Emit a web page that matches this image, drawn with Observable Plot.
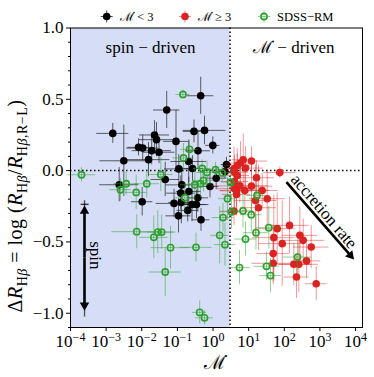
<!DOCTYPE html>
<html><head><meta charset="utf-8">
<script src="https://cdn.jsdelivr.net/npm/d3@7"></script>
<script src="https://cdn.jsdelivr.net/npm/@observablehq/plot@0.6"></script>
<style>
body{margin:0;background:#fff}
#chart{position:relative;width:374px;height:377px}
</style>
</head><body><div id="chart"></div>
<script>
// ---- data (log10 Mdot, Delta R, errors) ----
const thresholdMdot = 3;

const blackLogMdot = [-0.346,-1.300,-2.813,-0.534,-0.239,-1.642,-1.586,-1.039,-0.006,-2.091,-1.974,-1.721,-1.516,-0.422,-2.504,-1.811,-0.683,-0.960,-0.576,0.378,-1.342,0.089,-2.633,-0.876,-0.904,-0.680,-0.085,-1.988,-1.095,-0.890,-0.590,-0.464,-0.427,-0.711,-0.969,-0.337,0.336];
const blackDeltaR  = [0.525,0.425,0.261,0.275,0.282,0.250,0.217,0.205,0.177,0.163,0.158,0.140,0.129,0.139,0.069,0.077,0.064,0.012,0.015,0.043,-0.062,-0.053,-0.099,-0.100,-0.158,-0.146,-0.111,-0.218,-0.230,-0.223,-0.238,-0.238,-0.191,-0.279,-0.317,-0.345,-0.006];
const blackLogMdotErr = [0.37,0.37,0.45,0.30,0.60,0.42,0.48,0.35,0.20,0.30,0.45,0.55,0.45,0.35,0.67,0.60,0.50,0.40,0.30,0.15,0.40,0.30,0.55,0.45,0.40,0.35,0.25,0.30,0.50,0.35,0.40,0.35,0.30,0.30,0.35,0.25,0.15];
const blackDeltaRErr  = [0.13,0.13,0.07,0.08,0.10,0.10,0.12,0.22,0.06,0.06,0.09,0.10,0.08,0.13,0.25,0.12,0.15,0.10,0.09,0.05,0.12,0.08,0.12,0.12,0.12,0.10,0.08,0.10,0.10,0.15,0.12,0.10,0.10,0.08,0.12,0.08,0.05];

const redLogMdot = [0.847,1.080,0.771,0.679,0.589,0.912,0.603,1.874,0.679,1.220,0.752,1.080,0.603,0.659,0.892,1.380,0.659,1.192,1.521,1.276,0.589,1.801,2.147,1.706,2.436,2.531,1.942,2.756,1.689,1.689,2.267,2.408,2.624,2.343,2.896,0.603];
const redDeltaR  = [0.076,0.067,0.053,0.036,0.013,0.018,-0.011,-0.014,-0.034,-0.050,-0.107,-0.109,-0.127,-0.142,-0.139,-0.139,-0.167,-0.209,-0.197,-0.260,-0.284,-0.407,-0.384,-0.470,-0.454,-0.489,-0.512,-0.536,-0.582,-0.650,-0.657,-0.657,-0.633,-0.746,-0.793,-0.076];
const redLogMdotErr = [0.30,0.45,0.40,0.35,0.30,0.50,0.40,0.45,0.35,0.50,0.80,0.60,0.50,0.45,0.70,0.45,0.40,0.60,0.50,0.50,0.40,0.50,0.55,0.60,0.50,0.60,0.65,0.50,0.45,0.60,0.50,0.55,0.40,0.35,0.30,0.40];
const redDeltaRErr  = [0.18,0.10,0.15,0.12,0.15,0.15,0.12,0.04,0.15,0.12,0.12,0.20,0.15,0.12,0.15,0.12,0.15,0.25,0.20,0.30,0.10,0.25,0.20,0.30,0.20,0.15,0.30,0.15,0.20,0.15,0.15,0.20,0.12,0.15,0.12,0.12];

const sdssLogMdot = [-0.843,-0.660,-0.829,-3.691,-1.466,-0.304,-0.169,0.070,0.258,0.491,-2.437,-2.597,-1.859,-2.156,-0.511,-0.351,-0.792,0.406,0.519,0.280,-2.142,-1.662,-1.550,-1.440,0.187,-1.193,-0.478,0.336,-1.342,0.743,-0.374,-0.239,1.234,0.841,1.074,1.566,1.206,0.912,2.371,1.501,1.613,-0.267];
const sdssDeltaR  = [0.534,0.149,0.089,-0.029,-0.027,0.015,-0.013,0.007,-0.016,-0.081,-0.092,-0.134,-0.092,-0.153,-0.099,-0.092,-0.191,-0.197,-0.289,-0.329,-0.428,-0.468,-0.431,-0.431,-0.454,-0.540,-0.538,-0.519,-0.711,-0.680,-0.994,-1.032,-0.174,-0.282,-0.309,-0.400,-0.435,-0.480,-0.606,-0.671,-0.736,-0.069];
const sdssLogMdotErr = [0.20,0.25,0.30,0.40,0.35,0.25,0.30,0.25,0.25,0.25,0.35,0.30,0.35,0.30,0.40,0.35,0.30,0.25,0.30,0.30,0.70,0.40,0.45,0.40,0.25,0.55,0.45,0.30,0.45,0.30,0.20,0.25,0.30,0.30,0.30,0.35,0.35,0.30,0.40,0.35,0.30,0.30];
const sdssDeltaRErr  = [0.03,0.06,0.10,0.05,0.12,0.06,0.08,0.05,0.06,0.10,0.08,0.08,0.10,0.12,0.12,0.10,0.10,0.15,0.12,0.10,0.12,0.15,0.15,0.12,0.20,0.15,0.10,0.15,0.17,0.12,0.08,0.05,0.08,0.12,0.12,0.15,0.12,0.12,0.12,0.10,0.12,0.08];

const xTickExponents = [-4,-3,-2,-1,0,1,2,3,4];
const yTickValues = [-1.0,-0.5,0.0,0.5,1.0];
const yDomain = [-1.1, 1.0];
const xDomain = [1e-4, 10 ** 4.195];

// annotation layout (data coordinates)
const regionLabels = [
  {x: 0.0176, y: 0.86, text: "spin − driven"},
  {x: 185, y: 0.86, text: "\u2133\u0307 − driven"}
];
const accretionArrow = {x1: 115, y1: -0.081, x2: 7200, y2: -0.595, angle: 49.4};
const accretionText = {x: 1300, y: -0.285, text: "accretion rate"};
const spinArrow = {x: 2.47e-4, yTop: -0.298, yBottom: -0.929, yMid: -0.61};
const spinTexts = [
  {x: 2.47e-4, y: -0.237, text: "+"},
  {x: 2.47e-4, y: -0.996, text: "−"},
  {x: 5.04e-4, y: -0.594, text: "spin"}
];

function rows(lm, dr, xe, ye) {
  return lm.map((v, i) => ({
    x: 10 ** v, y: dr[i],
    xlo: 10 ** (v - xe[i]), xhi: 10 ** (v + xe[i]),
    ylo: dr[i] - ye[i], yhi: dr[i] + ye[i]
  }));
}
const black = rows(blackLogMdot, blackDeltaR, blackLogMdotErr, blackDeltaRErr);
const red = rows(redLogMdot, redDeltaR, redLogMdotErr, redDeltaRErr);
const sdss = rows(sdssLogMdot, sdssDeltaR, sdssLogMdotErr, sdssDeltaRErr);

const serif = "'Liberation Serif', 'DejaVu Serif', serif";
const dotted = {stroke: "black", strokeWidth: 1.5, strokeDasharray: "1.5,2.5"};

const spinLinks = [
  {x1: spinArrow.x, y1: spinArrow.yMid, x2: spinArrow.x, y2: spinArrow.yTop + 0.02},
  {x1: spinArrow.x, y1: spinArrow.yMid, x2: spinArrow.x, y2: spinArrow.yBottom - 0.02}
];
const heads = [
  {x: spinArrow.x, y: spinArrow.yTop + 0.015, rot: 0},
  {x: spinArrow.x, y: spinArrow.yBottom - 0.015, rot: 180},
  {x: accretionArrow.x2, y: accretionArrow.y2, rot: accretionArrow.angle + 90}
];

const plot = Plot.plot({
  width: 374, height: 377,
  marginLeft: 70, marginRight: 12, marginTop: 27.5, marginBottom: 50,
  x: {type: "log", domain: xDomain},
  y: {domain: yDomain},
  style: {fontFamily: serif, fontSize: "17px", background: "white", color: "black", overflow: "visible"},
  marks: [
    Plot.rect([{x1: xDomain[0], x2: thresholdMdot, y1: yDomain[0], y2: yDomain[1]}],
      {x1: "x1", x2: "x2", y1: "y1", y2: "y2", fill: "#d6ddf6"}),
    Plot.ruleX([thresholdMdot], dotted),
    Plot.ruleY([0], dotted),
    // black
    Plot.ruleY(black, {y: "y", x1: "xlo", x2: "xhi", stroke: "#222", strokeOpacity: 0.7, strokeWidth: 1}),
    Plot.ruleX(black, {x: "x", y1: "ylo", y2: "yhi", stroke: "#222", strokeOpacity: 0.7, strokeWidth: 1}),
    Plot.dot(black, {x: "x", y: "y", r: 3.8, fill: "black", stroke: "none"}),
    // red
    Plot.ruleY(red, {y: "y", x1: "xlo", x2: "xhi", stroke: "#e02020", strokeOpacity: 0.45, strokeWidth: 1}),
    Plot.ruleX(red, {x: "x", y1: "ylo", y2: "yhi", stroke: "#e02020", strokeOpacity: 0.45, strokeWidth: 1}),
    Plot.dot(red, {x: "x", y: "y", r: 3.8, fill: "#dd2222", stroke: "none"}),
    // sdss
    Plot.ruleY(sdss, {y: "y", x1: "xlo", x2: "xhi", stroke: "#2ca02c", strokeOpacity: 0.5, strokeWidth: 1}),
    Plot.ruleX(sdss, {x: "x", y1: "ylo", y2: "yhi", stroke: "#2ca02c", strokeOpacity: 0.5, strokeWidth: 1}),
    Plot.dot(sdss, {x: "x", y: "y", r: 3.1, fill: "none", stroke: "#2ca02c", strokeWidth: 1.6}),
    // axes
    Plot.axisY({ticks: d3.range(-11, 11).map(i => i / 10).filter(v => Math.abs(v * 2 - Math.round(v * 2)) > 1e-6),
      tickSize: 2, tickFormat: () => "", label: null}),
    Plot.axisY({ticks: yTickValues, tickSize: 4, tickPadding: 3, tickFormat: d3.format(".1f"), label: null}),
    Plot.axisX({ticks: xTickExponents.map(e => 10 ** e), tickSize: 4, tickPadding: 3,
      tickFormat: d => String(Math.round(Math.log10(d))), label: null}),
    Plot.frame({stroke: "black", strokeWidth: 1}),
    // annotations
    Plot.text(regionLabels, {x: "x", y: "y", text: "text", fontSize: 17, fontFamily: serif}),
    Plot.link(spinLinks, {x1: "x1", y1: "y1", x2: "x2", y2: "y2", stroke: "black", strokeWidth: 2.6}),
    Plot.link([accretionArrow], {x1: "x1", y1: "y1", x2: "x2", y2: "y2", stroke: "black", strokeWidth: 2.6}),
    Plot.dot(heads, {x: "x", y: "y", symbol: "triangle2", r: 4.5, fill: "black", rotate: "rot"}),
    Plot.text([accretionText], {x: "x", y: "y", text: "text", rotate: accretionArrow.angle, fontSize: 17, fontFamily: serif}),
    Plot.text(spinTexts, {x: "x", y: "y", text: "text", rotate: 90, fontSize: 17, fontFamily: serif})
  ]
});

document.getElementById("chart").appendChild(plot);
const svg = d3.select(plot);

// superscript x tick labels
svg.selectAll('g[aria-label="x-axis tick label"] text').each(function() {
  const e = this.textContent.replace("-", "−");
  const t = d3.select(this);
  t.text(null);
  t.append("tspan").text("10");
  t.append("tspan").attr("dy", "-0.45em").attr("font-size", "12px").text(e);
});

// y-axis label
const yl = svg.append("text")
  .attr("transform", "translate(22,206) rotate(-90)")
  .attr("text-anchor", "middle")
  .attr("font-family", serif).attr("font-size", "20px").attr("letter-spacing", "0.5px").attr("fill", "black");
function part(s, opts = {}) {
  const t = yl.append("tspan").text(s);
  if (opts.italic) t.attr("font-style", "italic");
  if (opts.sub) t.attr("font-size", "14px");
  if (opts.dy) t.attr("dy", opts.dy);
  return t;
}
part("Δ");
part("R", {italic: true});
part("H", {sub: true, dy: 5}); part("β", {italic: true, sub: true});
part(" = log (", {dy: -5});
part("R", {italic: true});
part("H", {sub: true, dy: 5}); part("β", {italic: true, sub: true});
part("/", {dy: -5});
part("R", {italic: true});
part("H", {sub: true, dy: 5}); part("β", {italic: true, sub: true}); part(",R−L", {sub: true});
part(")", {dy: -5});

// x-axis label
svg.append("text")
  .attr("x", 215).attr("y", 369).attr("text-anchor", "middle")
  .attr("font-family", serif).attr("font-size", "19px").attr("fill", "black")
  .text("\u2133\u0307");

// legend
const legendItems = [
  {mx: 106.7, tx: 120, label: "\u2133\u0307 < 3", kind: "black"},
  {mx: 185, tx: 198, label: "\u2133\u0307 ≥ 3", kind: "red"},
  {mx: 264, tx: 277, label: "SDSS−RM", kind: "sdss"}
];
const lg = svg.append("g");
legendItems.forEach(it => {
  const col = it.kind === "black" ? "#222" : it.kind === "red" ? "#e02020" : "#2ca02c";
  const op = it.kind === "black" ? 0.8 : 0.5;
  lg.append("line").attr("x1", it.mx - 6).attr("x2", it.mx + 6).attr("y1", 16.5).attr("y2", 16.5).attr("stroke", col).attr("stroke-opacity", op);
  lg.append("line").attr("x1", it.mx).attr("x2", it.mx).attr("y1", 10.5).attr("y2", 22.5).attr("stroke", col).attr("stroke-opacity", op);
  if (it.kind === "sdss") lg.append("circle").attr("cx", it.mx).attr("cy", 16.5).attr("r", 3.1).attr("fill", "none").attr("stroke", "#2ca02c").attr("stroke-width", 1.6);
  else lg.append("circle").attr("cx", it.mx).attr("cy", 16.5).attr("r", 3.8).attr("fill", it.kind === "black" ? "black" : "#dd2222");
  lg.append("text").attr("x", it.tx).attr("y", 21).attr("text-anchor", "start")
    .attr("font-family", serif).attr("font-size", "12.5px").attr("fill", "black").text(it.label);
});
</script>
</body></html>
